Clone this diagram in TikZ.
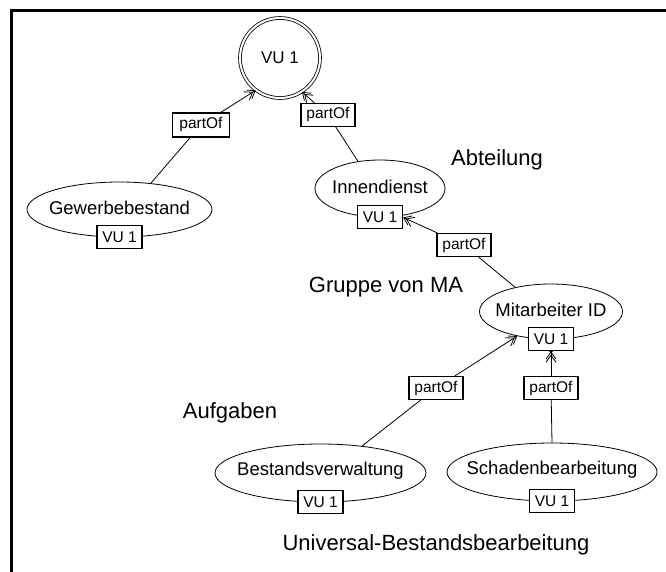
\documentclass[tikz,border=0pt]{standalone}
\usepackage{fontspec}
\setmainfont{Liberation Sans}
\usetikzlibrary{arrows.meta,shapes.geometric}
\tikzset{
  concept/.style={ellipse, draw, line width=0.8pt, inner sep=0pt},
  conceptname/.style={font=\fontsize{18.5}{20}\selectfont},
  tagbox/.style={rectangle, draw, fill=white, line width=1.1pt, inner sep=0pt,
    minimum width=45pt, minimum height=23pt, font=\fontsize{15.5}{17}\selectfont},
  relbox/.style={tagbox, minimum width=54pt},
  note/.style={font=\fontsize{22}{24}\selectfont},
  link/.style={line width=0.8pt},
  partlink/.style={link,
    -{Straight Barb[length=7pt,width=10pt,sep=-5pt]Straight Barb[length=7pt,width=10pt]}},
  root/.style={circle, draw, double, double distance=2pt, line width=0.8pt,
    minimum size=80pt, inner sep=0pt, font=\fontsize{17}{19}\selectfont},
}
\begin{document}
\begin{tikzpicture}[x=1pt,y=-1pt]
\useasboundingbox (0,0) rectangle (666,572);
% frame
\draw[line width=3pt] (11,572) -- (11,11) -- (666,11);

% root
\node[root] (vu) at (280,58) {VU 1};

% concepts (fixed ellipse size, name set as a centred label)
\node[concept, minimum width=185pt, minimum height=55pt,
  label={[conceptname,yshift=1.5pt]center:Gewerbebestand}] (gew) at (119.5,209.5) {};
\node[concept, minimum width=130pt, minimum height=57pt,
  label={[conceptname,yshift=1.5pt]center:Innendienst}] (inn) at (380,188.5) {};
\node[concept, minimum width=143pt, minimum height=55pt,
  label={[conceptname,yshift=2pt]center:Mitarbeiter ID}] (mit) at (551,311.5) {};
\node[concept, minimum width=211pt, minimum height=58pt,
  label={[conceptname,yshift=2pt]center:Bestandsverwaltung}] (best) at (320.5,473) {};
\node[concept, minimum width=210pt, minimum height=58pt,
  label={[conceptname,yshift=2.5pt]center:Schadenbearbeitung}] (scha) at (552,472) {};

% instance tags
\node[tagbox] (gewv) at (gew.south) {VU 1};
\node[tagbox] (innv) at (inn.south) {VU 1};
\node[tagbox] (mitv) at (mit.south) {VU 1};
\node[tagbox] (bestv) at (best.south) {VU 1};
\node[tagbox] (schav) at (scha.south) {VU 1};

% relation labels
\node[relbox, minimum width=57pt, minimum height=24pt] (r1) at (201,125) {partOf};
\node[relbox] (r2) at (328,115) {partOf};
\node[relbox] (r3) at (464,245) {partOf};
\node[relbox] (r4) at (436,388) {partOf};
\node[relbox] (r5) at (551,388) {partOf};

% partOf links
\draw[link] (gew.40) -- (r1);
\draw[partlink] (r1) -- (vu.233);
\draw[link] (inn.129) -- (r2);
\draw[partlink] (r2) -- (vu.303);
\draw[link] (mit.146) -- (r3);
\draw[partlink] (r3) -- (innv.east);
\draw[link] (best.33) -- (r4);
\draw[partlink] (r4) -- (mit.216);
\draw[link] (scha.north) -- (r5);
\draw[partlink] (r5) -- (mitv.south);
\fill (mitv.south) circle (1.8pt);

% annotations
\node[note] (abt) at (497,160) {Abteilung};
\node[note] (grp) at (386,287) {Gruppe von MA};
\node[note] (auf) at (230,413) {Aufgaben};
\node[note] (uni) at (436,545) {Universal-Bestandsbearbeitung};
\end{tikzpicture}
\end{document}
